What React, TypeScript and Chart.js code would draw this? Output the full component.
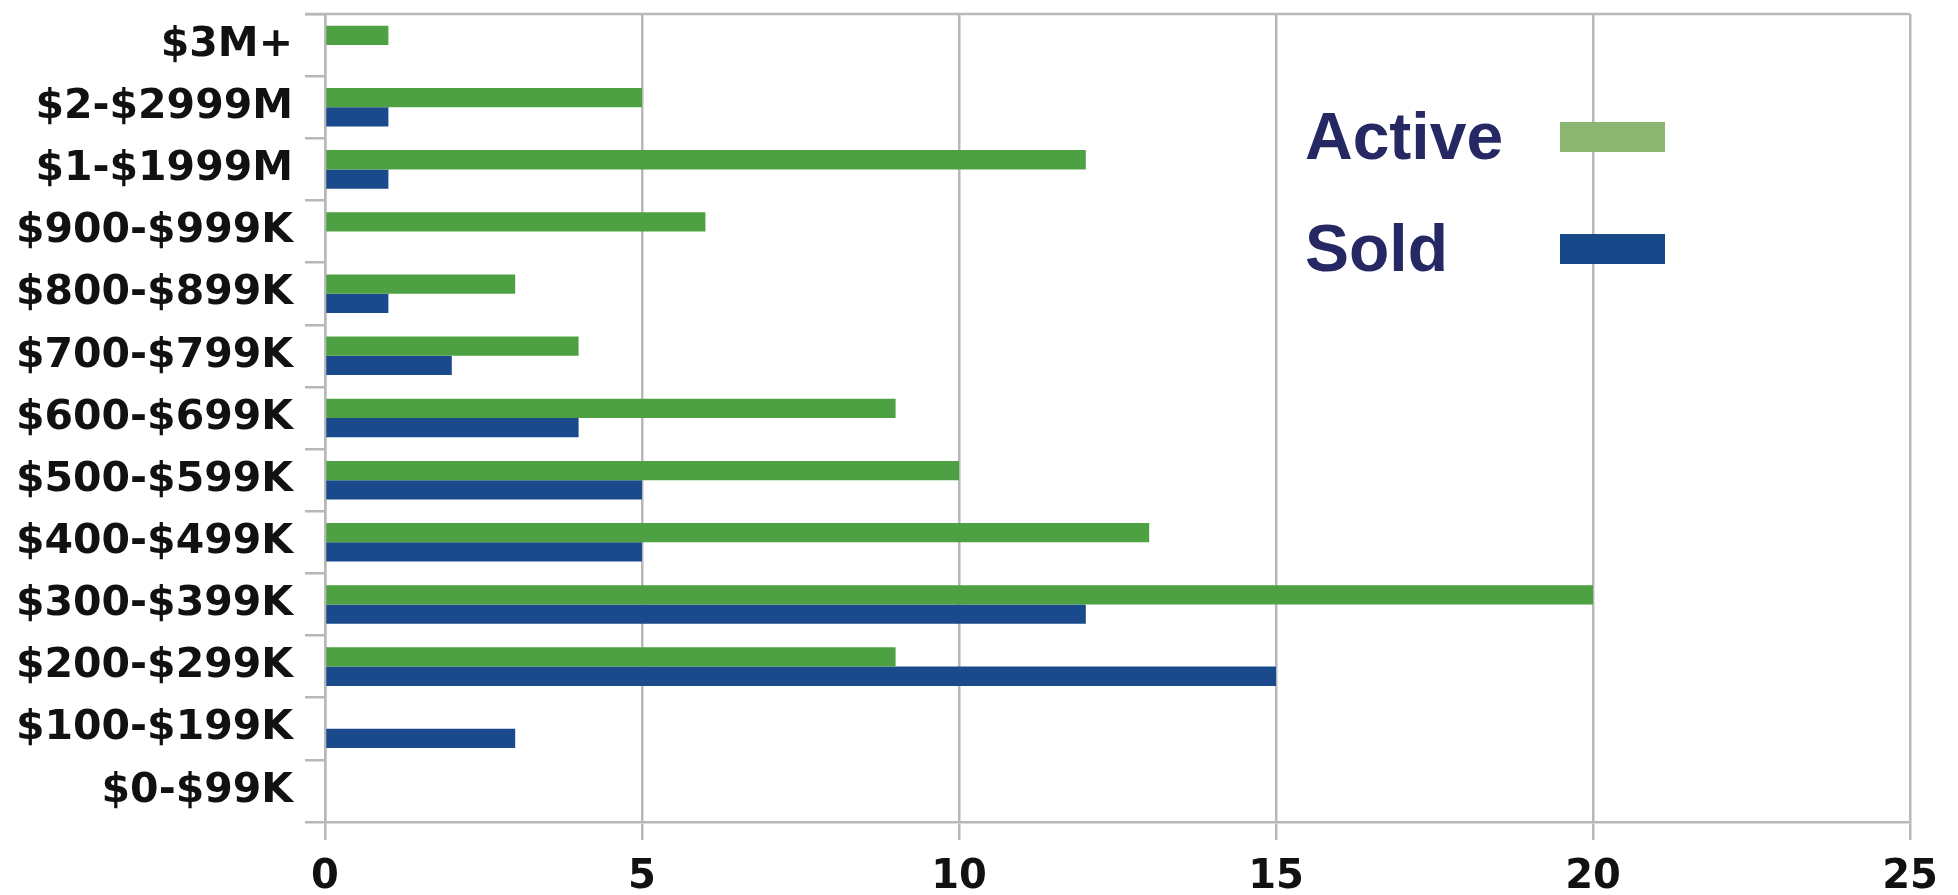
import { useEffect, useRef } from "react";
import { Chart, registerables } from "chart.js";

Chart.register(...registerables);

const categories = [
  "$3M+",
  "$2-$2999M",
  "$1-$1999M",
  "$900-$999K",
  "$800-$899K",
  "$700-$799K",
  "$600-$699K",
  "$500-$599K",
  "$400-$499K",
  "$300-$399K",
  "$200-$299K",
  "$100-$199K",
  "$0-$99K",
];
const activeValues = [1, 5, 12, 6, 3, 4, 9, 10, 13, 20, 9, 0, 0];
const soldValues = [0, 1, 1, 0, 1, 2, 4, 5, 5, 12, 15, 3, 0];
const seriesLabels = ["Active", "Sold"];
const xMin = 0;
const xMax = 25;
const xStep = 5;

const GRID = "#b8b8b8";
const barColors = ["#4ea142", "#1a4a8b"];
const legendColors = ["#8ab671", "#17498a"];

const legendPlugin = {
  id: "customLegend",
  afterDraw(chart: any) {
    const ctx = chart.ctx;
    const area = chart.chartArea;
    ctx.save();
    // top border
    ctx.strokeStyle = GRID;
    ctx.lineWidth = 2.5;
    ctx.beginPath();
    ctx.moveTo(area.left - 20, area.top);
    ctx.lineTo(area.right, area.top);
    ctx.stroke();
    // legend
    const rows = [159, 271];
    chart.data.datasets.forEach((ds: any, i: number) => {
      const y = rows[i];
      ctx.fillStyle = "#262863";
      ctx.font = "bold 66px 'Liberation Sans', Arial, sans-serif";
      ctx.textAlign = "left";
      ctx.textBaseline = "alphabetic";
      ctx.fillText(ds.label, 1305, y);
      ctx.fillStyle = ds.legendColor;
      ctx.fillRect(1560, y - 37, 105, 30);
    });
    ctx.restore();
  },
};

export default function App() {
  const ref = useRef<HTMLCanvasElement | null>(null);

  useEffect(() => {
    document.body.style.margin = "0";
    const canvas = ref.current;
    if (!canvas) return;
    const chart = new Chart(canvas, {
      type: "bar",
      data: {
        labels: categories,
        datasets: [
          {
            label: seriesLabels[0],
            data: activeValues,
            backgroundColor: barColors[0],
            legendColor: legendColors[0],
            barPercentage: 1,
            categoryPercentage: 0.62,
          } as any,
          {
            label: seriesLabels[1],
            data: soldValues,
            backgroundColor: barColors[1],
            legendColor: legendColors[1],
            barPercentage: 1,
            categoryPercentage: 0.62,
          } as any,
        ],
      },
      options: {
        indexAxis: "y",
        responsive: false,
        devicePixelRatio: 1,
        animation: false,
        layout: { padding: { top: 14, right: 48, left: 0, bottom: 0 } },
        plugins: {
          legend: { display: false },
          tooltip: { enabled: false },
        },
        scales: {
          x: {
            type: "linear",
            min: xMin,
            max: xMax,
            ticks: {
              stepSize: xStep,
              color: "#111",
              padding: 14,
              font: { family: "'DejaVu Sans'", weight: "bold", size: 40 },
            },
            grid: { color: GRID, lineWidth: 2.5, tickLength: 18 },
            border: { color: GRID, width: 2.5 },
            afterFit: (scale: any) => {
              scale.height = 73;
              scale.paddingLeft = 0;
              scale.paddingRight = 0;
            },
          },
          y: {
            type: "category",
            ticks: {
              color: "#111",
              padding: 12,
              font: { family: "'DejaVu Sans'", weight: "bold", size: 41 },
            },
            grid: {
              drawOnChartArea: false,
              color: GRID,
              lineWidth: 2.5,
              tickLength: 20,
              offset: true,
            },
            border: { color: GRID, width: 2.5 },
            afterFit: (scale: any) => {
              scale.width = 325;
              scale.paddingTop = 0;
              scale.paddingBottom = 0;
            },
          },
        },
      } as any,
      plugins: [legendPlugin],
    });
    return () => chart.destroy();
  }, []);

  return (
    <div style={{ position: "fixed", left: 0, top: 0, width: 1958, height: 895, background: "#fff" }}>
      <canvas ref={ref} width={1958} height={895} />
    </div>
  );
}
